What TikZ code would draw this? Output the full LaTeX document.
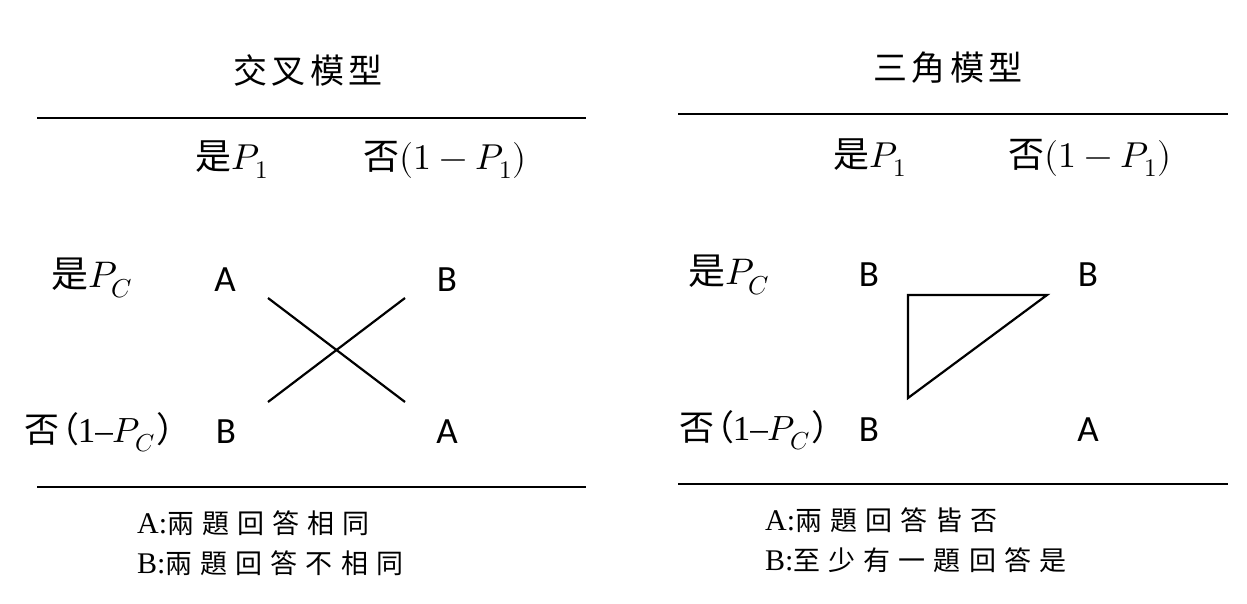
\documentclass[tikz,border=0pt]{standalone}
\usepackage{fontspec}
\usepackage{unicode-math}
\setmainfont{Liberation Serif}
\newfontfamily\cjk{Noto Sans CJK TC}
\newfontfamily\cjksp[LetterSpace=30]{Noto Sans CJK TC}
\newfontfamily\cjktt[LetterSpace=12]{Noto Sans CJK TC}
\newfontfamily\lab{Carlito}
\begin{document}
\begin{tikzpicture}[x=1pt,y=-1pt,
  title/.style={inner sep=0pt,font=\fontsize{34}{40}\selectfont\cjktt},
  head/.style={inner sep=0pt,font=\fontsize{36}{42}\selectfont\cjk},
  rowh/.style={inner sep=0pt,font=\fontsize{37}{44}\selectfont\cjk},
  rowhw/.style={inner sep=0pt,anchor=west,font=\fontsize{35}{44}\selectfont\cjk},
  cell/.style={inner sep=0pt,font=\fontsize{37}{44}\selectfont\lab},
  note/.style={inner sep=0pt,anchor=west,font=\fontsize{30}{36}\selectfont},
  rule/.style={line width=2.4pt},
  stroke/.style={line width=2.2pt}]
\useasboundingbox (0,0) rectangle (1247,604);
% ---------- left panel ----------
\node[title] (tl) at (308,70) {交叉模型};
\coordinate (l1a) at (37,118); \coordinate (l1b) at (586,118);
\draw[rule] (l1a) -- (l1b);
\node[head] (lc1) at (232,160) {是$P_1$};
\node[head] (lc2) at (445,160) {否$(1-P_1)$};
\node[rowh] (lr1) at (92,278) {是$P_C$};
\node[rowhw] (lr2) at (24,432) {否\kern-0.42em（\kern-0.05em{\rmfamily 1–}$P_C$\kern0.05em）\kern-0.5em};
\node[cell] (la1) at (225,280) {A};
\node[cell] (lb1) at (447,280) {B};
\node[cell] (lb2) at (226,432) {B};
\node[cell] (la2) at (447,432) {A};
\coordinate (x1) at (268,298); \coordinate (x2) at (405,402);
\coordinate (x3) at (268,402); \coordinate (x4) at (405,298);
\draw[stroke] (x1) -- (x2);
\draw[stroke] (x3) -- (x4);
\coordinate (l2a) at (37,487); \coordinate (l2b) at (586,487);
\draw[rule] (l2a) -- (l2b);
\node[note] (ln1) at (137,523) {A:{\fontsize{27}{36}\selectfont\cjksp 兩題回答相同}};
\node[note] (ln2) at (137,563) {B:{\fontsize{27}{36}\selectfont\cjksp 兩題回答不相同}};
% ---------- right panel ----------
\node[title] (tr) at (948,68) {三角模型};
\coordinate (r1a) at (678,114); \coordinate (r1b) at (1228,114);
\draw[rule] (r1a) -- (r1b);
\node[head] (rc1) at (870,158) {是$P_1$};
\node[head] (rc2) at (1090,158) {否$(1-P_1)$};
\node[rowh] (rr1) at (729,275) {是$P_C$};
\node[rowhw] (rr2) at (679,430) {否\kern-0.42em（\kern-0.05em{\rmfamily 1–}$P_C$\kern0.05em）\kern-0.5em};
\node[cell] (rb1) at (869,275) {B};
\node[cell] (rb2) at (1088,275) {B};
\node[cell] (rb3) at (869,430) {B};
\node[cell] (ra1) at (1088,430) {A};
\coordinate (t1) at (908,295); \coordinate (t2) at (1047,295); \coordinate (t3) at (908,398);
\draw[stroke,line join=miter] (t1) -- (t2) -- (t3) -- cycle;
\coordinate (r2a) at (678,484); \coordinate (r2b) at (1228,484);
\draw[rule] (r2a) -- (r2b);
\node[note] (rn1) at (765,520) {A:{\fontsize{27}{36}\selectfont\cjksp 兩題回答皆否}};
\node[note] (rn2) at (765,560) {B:{\fontsize{27}{36}\selectfont\cjksp 至少有一題回答是}};
\end{tikzpicture}
\end{document}
